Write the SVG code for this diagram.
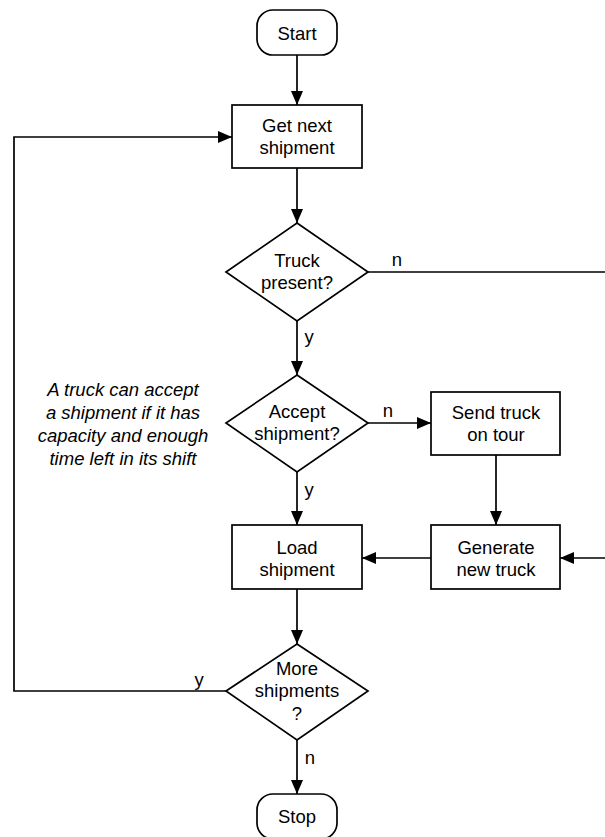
<svg xmlns="http://www.w3.org/2000/svg" width="605" height="837" viewBox="0 0 605 837">
<defs>
<marker id="arr" viewBox="0 0 14 12" refX="14" refY="6" markerWidth="14" markerHeight="12" markerUnits="userSpaceOnUse" orient="auto">
<path d="M0,0 L14,6 L0,12 Z" fill="#000"/>
</marker>
</defs>
<style>
.shape{fill:#fff;stroke:#000;stroke-width:1.7}
.t{font-family:"Liberation Sans",Arial,Helvetica,sans-serif;font-size:18.5px;fill:#000;text-anchor:middle}
.note{font-style:italic}
.edge{fill:none;stroke:#000;stroke-width:1.7}
.lbl{font-family:"Liberation Sans",Arial,Helvetica,sans-serif;font-size:18.5px;fill:#000;text-anchor:middle}
</style>
<rect width="605" height="837" fill="#fff"/>
<g id="connectors">
<path class="edge" d="M297,55 V105" marker-end="url(#arr)"/>
<path class="edge" d="M297,168 V223" marker-end="url(#arr)"/>
<path class="edge" d="M297,321 V375" marker-end="url(#arr)"/>
<path class="edge" d="M368,423 H431" marker-end="url(#arr)"/>
<path class="edge" d="M297,472 V525" marker-end="url(#arr)"/>
<path class="edge" d="M496,455 V525" marker-end="url(#arr)"/>
<path class="edge" d="M431,558 H362" marker-end="url(#arr)"/>
<path class="edge" d="M368,272 H625 V558 H560" marker-end="url(#arr)"/>
<path class="edge" d="M297,589 V644" marker-end="url(#arr)"/>
<path class="edge" d="M226,691 H14 V137 H232" marker-end="url(#arr)"/>
<path class="edge" d="M297,740 V794" marker-end="url(#arr)"/>
<text class="lbl" x="397" y="266">n</text>
<text class="lbl" x="309" y="343">y</text>
<text class="lbl" x="388" y="417">n</text>
<text class="lbl" x="309" y="496">y</text>
<text class="lbl" x="199" y="686">y</text>
<text class="lbl" x="310" y="764">n</text>
</g>
<g id="start">
<rect class="shape" x="257" y="10" width="80" height="45" rx="16" ry="16"/>
<text class="t" x="297" y="40">Start</text>
</g>
<g id="get-next">
<rect class="shape" x="232" y="105" width="130" height="63"/>
<text class="t" x="297" y="132">Get next</text>
<text class="t" x="297" y="154">shipment</text>
</g>
<g id="truck-present">
<polygon class="shape" points="297,223 368,272 297,321 226,272"/>
<text class="t" x="297" y="267">Truck</text>
<text class="t" x="297" y="289">present?</text>
</g>
<g id="accept">
<polygon class="shape" points="297,375 368,423 297,472 226,423"/>
<text class="t" x="297" y="418">Accept</text>
<text class="t" x="297" y="440">shipment?</text>
</g>
<g id="send-truck">
<rect class="shape" x="431" y="392" width="129" height="63"/>
<text class="t" x="496" y="419">Send truck</text>
<text class="t" x="496" y="441">on tour</text>
</g>
<g id="generate">
<rect class="shape" x="431" y="525" width="129" height="64"/>
<text class="t" x="496" y="554">Generate</text>
<text class="t" x="496" y="576">new truck</text>
</g>
<g id="load">
<rect class="shape" x="232" y="525" width="130" height="64"/>
<text class="t" x="297" y="554">Load</text>
<text class="t" x="297" y="576">shipment</text>
</g>
<g id="more">
<polygon class="shape" points="297,644 368,691 297,740 226,691"/>
<text class="t" x="297" y="675">More</text>
<text class="t" x="297" y="697">shipments</text>
<text class="t" x="297" y="720">?</text>
</g>
<g id="stop">
<rect class="shape" x="257" y="794" width="80" height="45" rx="16" ry="16"/>
<text class="t" x="297" y="823">Stop</text>
</g>
<g id="note">
<text class="t note" x="123" y="396">A truck can accept</text>
<text class="t note" x="123" y="419">a shipment if it has</text>
<text class="t note" x="123" y="442">capacity and enough</text>
<text class="t note" x="123" y="465">time left in its shift</text>
</g>
</svg>
